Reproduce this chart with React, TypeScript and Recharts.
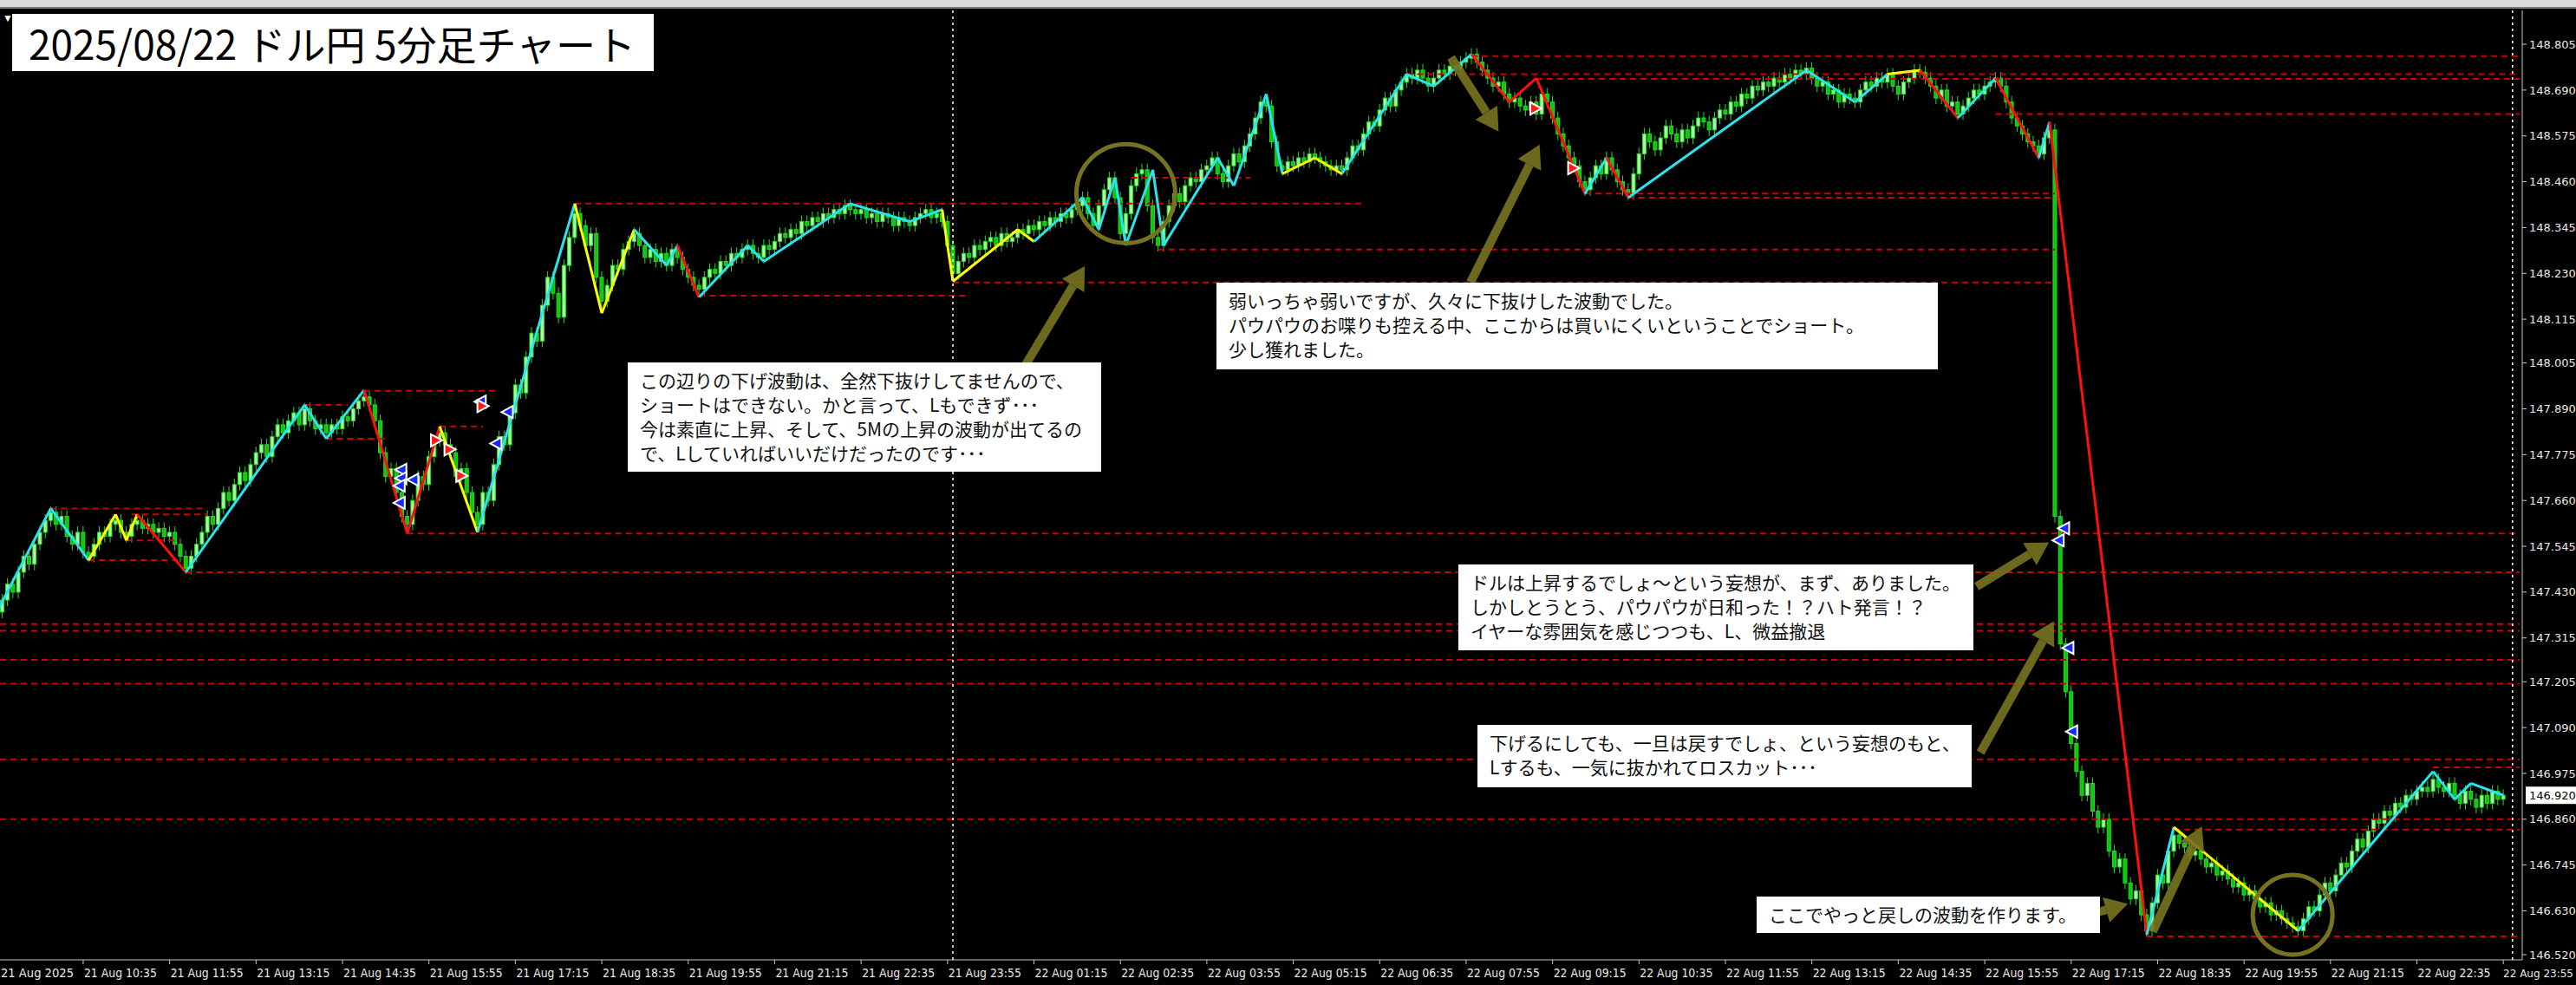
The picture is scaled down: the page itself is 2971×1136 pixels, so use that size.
import React from 'react'
import { Bar, ComposedChart, Line, ReferenceDot, ReferenceLine, XAxis, YAxis } from 'recharts'

// USD/JPY 5 minute closes, 21 Aug 09:15 .. 22 Aug 23:55
const firstOpen = 147.36
const closes = [
  147.38, 147.41, 147.45, 147.43, 147.48, 147.52, 147.50, 147.55, 147.58, 147.61, 147.63,
  147.60, 147.62, 147.57, 147.55, 147.58, 147.53, 147.52,
  147.55, 147.58, 147.57, 147.60, 147.61,
  147.58, 147.57,
  147.60, 147.61,
  147.59, 147.60, 147.58, 147.59, 147.57, 147.58, 147.55, 147.52, 147.49,
  147.52, 147.55, 147.58, 147.62, 147.60, 147.64, 147.68, 147.66, 147.70, 147.73, 147.71, 147.75, 147.78, 147.80, 147.77, 147.82, 147.85, 147.83, 147.86, 147.88, 147.85, 147.89,
  147.86, 147.84, 147.85, 147.83,
  147.85, 147.84, 147.87, 147.86, 147.89, 147.91, 147.92,
  147.90, 147.86, 147.78, 147.72, 147.74, 147.68, 147.62, 147.60,
  147.66, 147.72, 147.70, 147.77, 147.81, 147.83,
  147.80, 147.78, 147.72, 147.74, 147.68, 147.63, 147.60,
  147.68, 147.66, 147.75, 147.82, 147.80, 147.88, 147.95, 147.93, 148.02, 148.08, 148.06, 148.15, 148.22, 148.18, 148.12, 148.25, 148.32, 148.38,
  148.35, 148.30, 148.33, 148.22, 148.16,
  148.20, 148.25, 148.24, 148.29, 148.31, 148.33,
  148.30, 148.27, 148.29, 148.26, 148.28, 148.25,
  148.29, 148.27, 148.24, 148.22, 148.20, 148.19,
  148.22, 148.24, 148.23, 148.26, 148.25, 148.28, 148.27, 148.29, 148.30,
  148.28, 148.27, 148.30, 148.29, 148.31, 148.33, 148.32, 148.34, 148.33, 148.36, 148.35, 148.37, 148.36, 148.38, 148.37, 148.39, 148.38, 148.40, 148.39,
  148.38, 148.39, 148.37, 148.38, 148.36, 148.38, 148.37, 148.35, 148.37, 148.36, 148.35,
  148.37, 148.38, 148.39, 148.37, 148.38, 148.36, 148.30, 148.23,
  148.26, 148.28, 148.27, 148.30, 148.29, 148.31, 148.32, 148.30, 148.33, 148.31, 148.32, 148.34,
  148.33, 148.35, 148.34, 148.36, 148.35, 148.37, 148.36, 148.38, 148.37, 148.39, 148.40, 148.42,
  148.38, 148.35, 148.40, 148.44, 148.47, 148.42, 148.33, 148.38, 148.45, 148.48, 148.49, 148.40, 148.32, 148.30, 148.36,
  148.40, 148.43, 148.41, 148.45, 148.47, 148.46, 148.49, 148.50, 148.52, 148.48, 148.46, 148.50, 148.53, 148.51, 148.55, 148.58, 148.62, 148.66, 148.65,
  148.56, 148.50, 148.49, 148.51, 148.50, 148.52, 148.51, 148.53, 148.52, 148.51, 148.50, 148.49, 148.50, 148.49,
  148.52, 148.55, 148.54, 148.58, 148.61, 148.60, 148.64, 148.67, 148.65, 148.69, 148.71, 148.73, 148.72, 148.74, 148.72, 148.70, 148.72, 148.74, 148.73, 148.75, 148.74, 148.76, 148.77, 148.78,
  148.76, 148.74, 148.72, 148.70, 148.71, 148.68, 148.66, 148.67, 148.65, 148.64, 148.66, 148.63, 148.68, 148.66, 148.62, 148.58, 148.55, 148.52, 148.50, 148.46, 148.44,
  148.47, 148.50, 148.48, 148.52, 148.49, 148.46, 148.44, 148.43, 148.48, 148.53, 148.58,
  148.56, 148.54, 148.57, 148.60, 148.58, 148.56, 148.59, 148.57, 148.60, 148.62, 148.61, 148.59, 148.62, 148.64, 148.63, 148.66, 148.65, 148.68, 148.67, 148.70, 148.69, 148.71, 148.70, 148.72, 148.71, 148.73, 148.72, 148.74, 148.73, 148.745,
  148.72, 148.70, 148.71, 148.68, 148.69, 148.66, 148.68, 148.67, 148.66,
  148.69, 148.71, 148.70, 148.72, 148.71, 148.73,
  148.70, 148.68, 148.71, 148.72, 148.74, 148.735,
  148.72, 148.70, 148.67, 148.69, 148.65, 148.66, 148.63,
  148.65, 148.67, 148.69, 148.68, 148.70, 148.71, 148.72,
  148.70, 148.66, 148.62, 148.60, 148.58, 148.56, 148.55, 148.53,
  148.57, 148.59,
  147.62,
  147.30, 147.18, 147.05, 146.98, 146.92, 146.95, 146.88, 146.84, 146.86, 146.78, 146.74, 146.76, 146.70, 146.66, 146.68, 146.62, 146.58,
  146.65, 146.72, 146.70, 146.78, 146.82,
  146.80, 146.79, 146.77, 146.78, 146.76, 146.74, 146.75, 146.72, 146.73, 146.71, 146.69, 146.70, 146.67, 146.68, 146.66, 146.64, 146.65, 146.62, 146.63, 146.61, 146.60, 146.59, 146.58,
  146.61, 146.64, 146.63, 146.67, 146.70, 146.68, 146.72, 146.75, 146.74, 146.78, 146.81, 146.79, 146.83, 146.86, 146.85, 146.88, 146.87, 146.90, 146.89, 146.92, 146.91, 146.93, 146.94, 146.93, 146.96,
  146.94, 146.93, 146.95, 146.92, 146.90, 146.93, 146.91, 146.89, 146.92, 146.90, 146.93, 146.91, 146.92,
]

// zigzag pivots (bar index, price) and the kind of the leg that ends at each pivot
const zzBars = [0, 10, 17, 22, 24, 26, 35, 57, 61, 68, 76, 82, 89, 107, 112, 118, 124, 126, 130, 139, 142, 158, 169, 175, 177, 189, 192, 201, 204, 207, 209, 214, 216, 226, 229, 235, 238, 244, 249, 261, 266, 273, 280, 285, 294, 298, 302, 335, 344, 350, 356, 363, 370, 378, 380, 398, 403, 426, 451, 455, 458, 464]
const zzPrices = [147.38, 147.64, 147.51, 147.625, 147.56, 147.625, 147.48, 147.90, 147.815, 147.937, 147.577, 147.846, 147.58, 148.405, 148.13, 148.34, 148.25, 148.30, 148.17, 148.30, 148.26, 148.405, 148.36, 148.39, 148.21, 148.34, 148.31, 148.42, 148.34, 148.47, 148.30, 148.49, 148.30, 148.52, 148.45, 148.68, 148.48, 148.52, 148.48, 148.73, 148.70, 148.78, 148.66, 148.72, 148.43, 148.52, 148.42, 148.74, 148.66, 148.73, 148.74, 148.62, 148.72, 148.52, 148.61, 146.57, 146.84, 146.58, 146.98, 146.91, 146.95, 146.92]
const zzKinds = ['', 'w', 'w', 's', 's', 's', 'b', 'w', 'w', 'w', 'b', 'b', 's', 'w', 's', 's', 'w', 'w', 'b', 'w', 'w', 'w', 'w', 'w', 's', 's', 's', 'w', 'w', 'w', 'w', 'w', 'w', 'w', 'w', 'w', 'w', 's', 's', 'w', 'w', 'w', 'b', 'b', 'b', 'w', 'b', 'w', 'w', 'w', 's', 'b', 'w', 'b', 'w', 'b', 'w', 's', 'w', 'w', 'w', 'w']

// support / resistance levels
const levelFrom = [10, 25, 24, 17, 35, 57, 61, 68, 76, 82, 107, 130, 177, 210, 215, 261, 273, 285, 294, 302, 370, 0.6, 0.6, 0.6, 0.6, 0.6, 0.6, 398, 403, 451]
const levelTo = [39, 39, 33, 34, 467, 65, 72, 93, 467, 90, 253, 180, 381, 232, 381, 467, 467, 467, 381, 381, 467, 467, 467, 467, 467, 467, 467, 467, 467, 467]
const levelPrice = [147.64, 147.625, 147.56, 147.51, 147.48, 147.90, 147.815, 147.935, 147.577, 147.846, 148.405, 148.174, 148.207, 148.47, 148.29, 148.73, 148.775, 148.718, 148.43, 148.42, 148.63, 147.35, 147.333, 147.26, 147.20, 147.01, 146.86, 146.566, 146.834, 146.99]

// trade signal arrows from the indicator (bar, price)
const buyBars = [74.7, 74.7, 74.4, 74.4, 76.9, 89.4, 94.4, 92.3, 381.5, 382.5, 383.3, 384]
const buyPrices = [147.737, 147.716, 147.697, 147.654, 147.712, 147.908, 147.882, 147.803, 147.56, 147.59, 147.29, 147.08]
const sellBars = [81.5, 84, 86.2, 90.1, 285, 292]
const sellPrices = [147.811, 147.788, 147.722, 147.897, 148.644, 148.494]

const timeLabels = [
  '21 Aug 2025', '21 Aug 10:35', '21 Aug 11:55', '21 Aug 13:15', '21 Aug 14:35', '21 Aug 15:55', '21 Aug 17:15',
  '21 Aug 18:35', '21 Aug 19:55', '21 Aug 21:15', '21 Aug 22:35', '21 Aug 23:55', '22 Aug 01:15', '22 Aug 02:35',
  '22 Aug 03:55', '22 Aug 05:15', '22 Aug 06:35', '22 Aug 07:55', '22 Aug 09:15', '22 Aug 10:35', '22 Aug 11:55',
  '22 Aug 13:15', '22 Aug 14:35', '22 Aug 15:55', '22 Aug 17:15', '22 Aug 18:35', '22 Aug 19:55', '22 Aug 21:15',
  '22 Aug 22:35', '22 Aug 23:55',
]
const priceTicks = [148.805, 148.69, 148.575, 148.46, 148.345, 148.23, 148.115, 148.005, 147.89, 147.775, 147.66, 147.545, 147.43, 147.315, 147.205, 147.09, 146.975, 146.86, 146.745, 146.63, 146.52]
const daySeparators = [177, 465.7]

// annotation arrows: tail -> head, in (bar, price)
const arrowTail = [[186.8, 147.918], [269.2, 148.772], [272.8, 148.207], [366.5, 147.444], [367.2, 147.027], [378.4, 146.586], [399.1, 146.578]]
const arrowHead = [[201.4, 148.248], [278, 148.586], [285.6, 148.553], [379.9, 147.555], [380.8, 147.357], [394.5, 146.648], [408.2, 146.842]]
const circleAt = [[209, 148.43], [425, 146.62]]

const notes = [
  'この辺りの下げ波動は、全然下抜けしてませんので、\nショートはできない。かと言って、Lもできず･･･\n今は素直に上昇、そして、5Mの上昇の波動が出てるの\nで、Lしていればいいだけだったのです･･･',
  '弱いっちゃ弱いですが、久々に下抜けした波動でした。\nパウパウのお喋りも控える中、ここからは買いにくいということでショート。\n少し獲れました。',
  'ドルは上昇するでしょ～という妄想が、まず、ありました。\nしかしとうとう、パウパウが日和った！？ハト発言！？\nイヤーな雰囲気を感じつつも、L、微益撤退',
  '下げるにしても、一旦は戻すでしょ、という妄想のもと、\nLするも、一気に抜かれてロスカット･･･',
  'ここでやっと戻しの波動を作ります。',
]
const noteBoxes = [
  { left: 724, top: 418, width: 546, height: 126 },
  { left: 1403, top: 326, width: 832, height: 100 },
  { left: 1682, top: 651, width: 594, height: 99 },
  { left: 1704, top: 836, width: 570, height: 72 },
  { left: 2026, top: 1034, width: 396, height: 42 },
]

const W = 2971
const H = 1136
const ZZ_COLOR: Record<string, string> = { w: '#29e3ee', s: '#ffff00', b: '#ff1010' }
const LEVEL_COLOR = '#d00000'
const OLIVE = '#77721f'
const AXIS_FONT = "'DejaVu Sans', Verdana, sans-serif"
const JP_FONT = "'Noto Sans CJK JP', 'Noto Sans CJK SC', sans-serif"
const BODY_W = 4

const candles = closes.map((c, i) => {
  const o = i === 0 ? firstOpen : closes[i - 1]
  return { i, o, c, body: [Math.min(o, c), Math.max(o, c)] }
})

const Candle = (props: any) => {
  const { x, y, width, height, payload } = props
  const top = height < 0 ? y + height : y
  const h = Math.max(Math.abs(height), 1)
  const cx = x + width / 2
  const up = payload.c >= payload.o
  return (
    <g>
      <line x1={cx} x2={cx} y1={top - 7} y2={top + h + 7} stroke="#1fe01f" strokeWidth={1} />
      <rect x={cx - BODY_W / 2} y={top} width={BODY_W} height={h} fill={up ? '#a6ffa0' : '#12c412'} stroke="#1fe01f" strokeWidth={1} />
    </g>
  )
}

const SignalMark = (color: string, dir: number) => (props: any) => {
  const { cx, cy } = props
  const pts = `${cx + dir * 7},${cy - 7} ${cx + dir * 7},${cy + 7} ${cx - dir * 6},${cy}`
  return <polygon points={pts} fill={color} stroke="#ffffff" strokeWidth={2} />
}
const BuyMark = SignalMark('#1428ff', 1)
const SellMark = SignalMark('#ff1a1a', -1)

const Arrow = (props: any) => {
  const { x1, y1, x2, y2 } = props
  const dx = x2 - x1
  const dy = y2 - y1
  const len = Math.hypot(dx, dy) || 1
  const ux = dx / len
  const uy = dy / len
  const head = 26
  const half = 15
  const bx = x2 - ux * head
  const by = y2 - uy * head
  return (
    <g opacity={0.92}>
      <line x1={x1} y1={y1} x2={bx} y2={by} stroke={OLIVE} strokeWidth={10} />
      <polygon points={`${x2},${y2} ${bx - uy * half},${by + ux * half} ${bx + uy * half},${by - ux * half}`} fill={OLIVE} />
    </g>
  )
}

const TimeTick = (props: any) => {
  const { x, y, payload } = props
  const k = Math.round(payload.value / 16)
  if (k === timeLabels.length - 1) {
    // last label is kept inside the page edge
    return (
      <text x={W - 3} y={y + 13} fill="#e8e8e8" fontSize={12} fontFamily={AXIS_FONT} textAnchor="end">
        {timeLabels[k]}
      </text>
    )
  }
  return (
    <text
      x={Math.max(x + 1, 1)}
      y={y + 13}
      fill="#e8e8e8"
      fontSize={14}
      fontFamily={AXIS_FONT}
      textLength={84}
      lengthAdjust="spacingAndGlyphs"
      textAnchor="start"
    >
      {timeLabels[k]}
    </text>
  )
}

const PriceBox = (props: any) => {
  const { viewBox } = props
  const x = viewBox.x + viewBox.width + 4
  const y = viewBox.y
  return (
    <g>
      <rect x={x} y={y - 10} width={58} height={20} fill="#ffffff" />
      <text x={x + 4} y={y + 5} fill="#000" fontSize={13} fontFamily={AXIS_FONT}>
        {closes[closes.length - 1].toFixed(3)}
      </text>
    </g>
  )
}

export default function App() {
  return (
    <div style={{ position: 'fixed', left: 0, top: 0, width: W, height: H, background: '#000', overflow: 'hidden' }}>
      <div style={{ position: 'absolute', left: 0, top: 0, width: W, height: 8, background: '#d9d9d9', borderBottom: '2px solid #7a7a7a' }} />
      <ComposedChart width={W} height={H} data={candles} margin={{ top: 12, right: 0, bottom: 0, left: 0 }}>
        <XAxis
          dataKey="i"
          type="number"
          domain={[0.6, 467.5]}
          allowDataOverflow
          ticks={timeLabels.map((_, k) => k * 16)}
          tick={<TimeTick />}
          tickSize={5}
          tickMargin={2}
          height={29}
          stroke="#c8c8c8"
          interval={0}
        />
        <YAxis
          orientation="right"
          type="number"
          domain={[146.507, 148.89]}
          allowDataOverflow
          ticks={priceTicks}
          tickFormatter={(v: number) => v.toFixed(3)}
          tick={{ fill: '#e8e8e8', fontSize: 13, fontFamily: AXIS_FONT }}
          tickSize={5}
          tickMargin={3}
          width={62}
          stroke="#c8c8c8"
          interval={0}
        />
        {levelPrice.map((p, k) => (
          <ReferenceLine
            key={'lv' + k}
            segment={[{ x: levelFrom[k], y: p }, { x: levelTo[k], y: p }]}
            stroke={LEVEL_COLOR}
            strokeWidth={2}
            strokeDasharray="7 5"
            ifOverflow="hidden"
          />
        ))}
        {daySeparators.map((d) => (
          <ReferenceLine key={'ds' + d} x={d} stroke="#ffffff" strokeWidth={1.5} strokeDasharray="3 4" />
        ))}
        <Bar dataKey="body" barSize={BODY_W} shape={<Candle />} isAnimationActive={false} />
        {zzBars.slice(1).map((b, k) => (
          <Line
            key={'zz' + k}
            data={[{ i: zzBars[k], p: zzPrices[k] }, { i: b, p: zzPrices[k + 1] }]}
            dataKey="p"
            type="linear"
            stroke={ZZ_COLOR[zzKinds[k + 1]]}
            strokeWidth={3}
            dot={false}
            activeDot={false}
            isAnimationActive={false}
          />
        ))}
        {buyBars.map((b, k) => (
          <ReferenceDot key={'by' + k} x={b} y={buyPrices[k]} r={7} shape={BuyMark} ifOverflow="visible" />
        ))}
        {sellBars.map((b, k) => (
          <ReferenceDot key={'sl' + k} x={b} y={sellPrices[k]} r={7} shape={SellMark} ifOverflow="visible" />
        ))}
        {circleAt.map(([b, p], k) => (
          <ReferenceDot key={'ci' + k} x={b} y={p} r={k === 0 ? 57 : 46} fill="none" stroke={OLIVE} strokeWidth={5} ifOverflow="visible" />
        ))}
        {arrowTail.map((t, k) => (
          <ReferenceLine
            key={'ar' + k}
            segment={[{ x: t[0], y: t[1] }, { x: arrowHead[k][0], y: arrowHead[k][1] }]}
            shape={<Arrow />}
            ifOverflow="visible"
          />
        ))}
        <ReferenceLine y={closes[closes.length - 1]} stroke="none" ifOverflow="visible" label={<PriceBox />} />
      </ComposedChart>
      <div style={{ position: 'absolute', left: 3, top: 14, color: '#fff', fontSize: 12 }}>▼</div>
      <div
        style={{
          position: 'absolute', left: 14, top: 16, width: 740, height: 66, background: '#fff', color: '#000',
          fontFamily: JP_FONT, fontSize: 46, lineHeight: '66px', paddingLeft: 19, boxSizing: 'border-box', whiteSpace: 'nowrap',
        }}
      >
        2025/08/22 ドル円 5分足チャート
      </div>
      {notes.map((t, k) => (
        <div
          key={'nt' + k}
          style={{
            position: 'absolute', ...noteBoxes[k], background: '#fff', color: '#111', fontFamily: JP_FONT, fontSize: 21,
            lineHeight: '28px', padding: '6px 0 0 14px', boxSizing: 'border-box', whiteSpace: 'pre', overflow: 'hidden',
          }}
        >
          {t}
        </div>
      ))}
    </div>
  )
}
